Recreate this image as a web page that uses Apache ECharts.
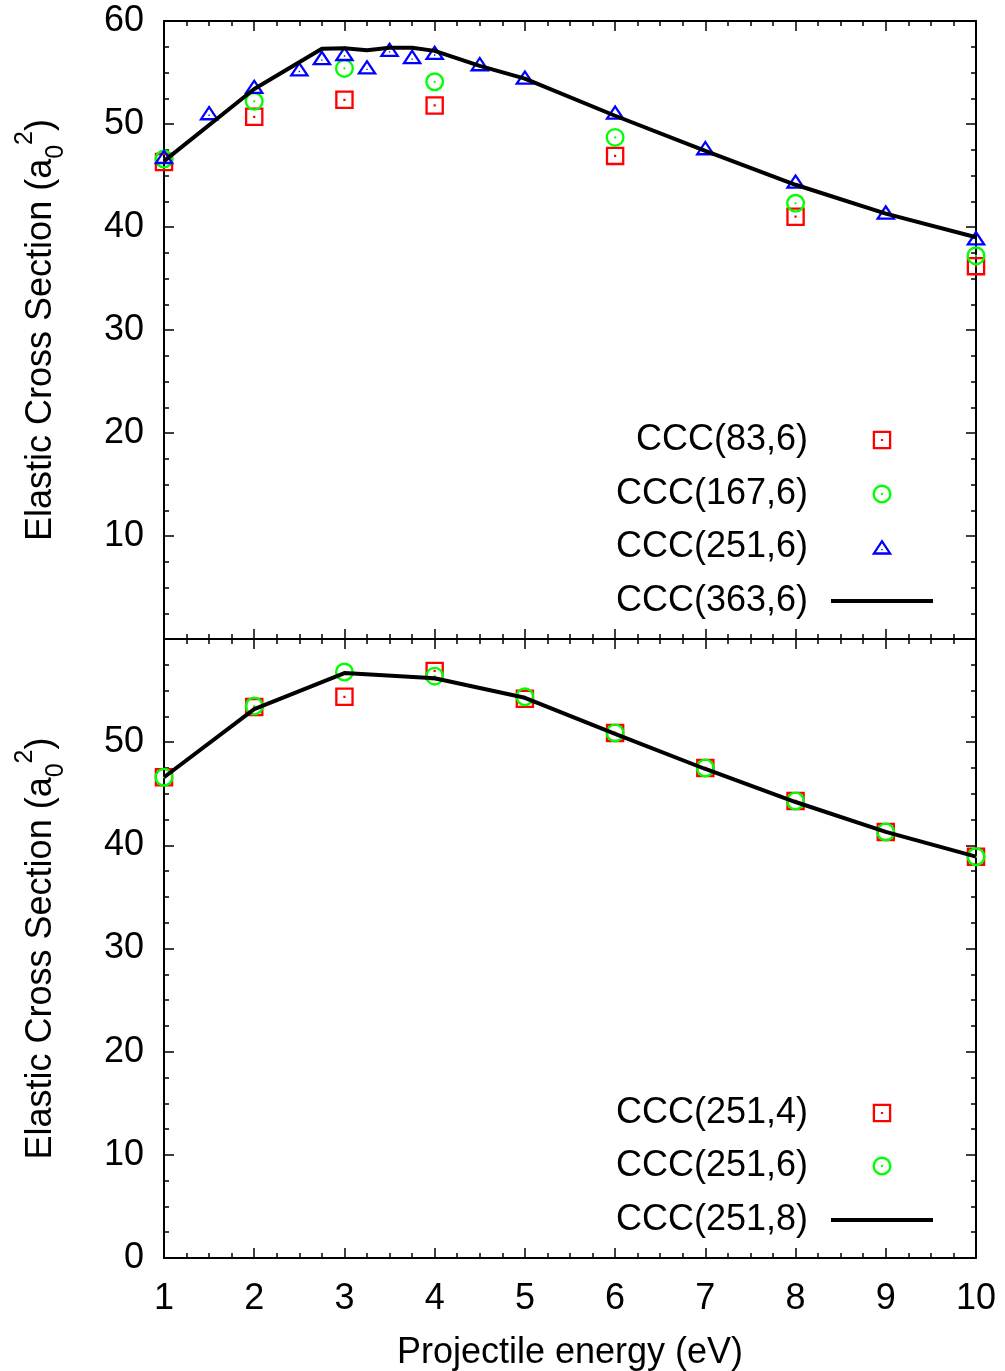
<!DOCTYPE html>
<html>
<head>
<meta charset="utf-8">
<script src="https://cdn.jsdelivr.net/npm/echarts@6/dist/echarts.min.js"></script>
<style>
  html, body { margin: 0; padding: 0; background: #fff; }
  #chart { width: 1005px; height: 1371px; }
</style>
</head>
<body>
<div id="chart"></div>
<script>
// Projectile energies (eV)
const energyFine = [1, 1.5, 2, 2.5, 2.75, 3, 3.25, 3.5, 3.75, 4, 4.5, 5, 6, 7, 8, 9, 10];
const energyCoarse = [1, 2, 3, 4, 6, 8, 10];
const energyLine = [1, 2, 2.75, 3, 3.25, 3.5, 3.75, 4, 4.5, 5, 6, 7, 8, 9, 10];
const energyInt = [1, 2, 3, 4, 5, 6, 7, 8, 9, 10];

// Upper panel: convergence in the number of states (a0^2)
const ccc83_6 = [46.3, 50.7, 52.35, 51.8, 46.9, 41.0, 36.2];
const ccc167_6 = [46.6, 52.2, 55.4, 54.1, 48.7, 42.3, 37.2];
const ccc251_6 = [46.6, 50.85, 53.4, 55.1, 56.2, 56.6, 55.3, 57.0, 56.3, 56.7, 55.6, 54.3, 50.9, 47.45, 44.2, 41.2, 38.7];
const ccc363_6 = [46.4, 53.4, 57.3, 57.35, 57.15, 57.4, 57.4, 57.1, 55.65, 54.4, 50.8, 47.4, 44.1, 41.3, 39.0];

// Lower panel: convergence in the partial-wave cut-off (a0^2)
const ccc251_4 = [46.6, 53.4, 54.4, 56.9, 54.2, 50.9, 47.5, 44.3, 41.3, 38.9];
const ccc251_6b = [46.6, 53.5, 56.8, 56.4, 54.4, 50.9, 47.5, 44.3, 41.3, 38.9];
const ccc251_8 = [46.6, 53.2, 56.7, 56.2, 54.3, 50.8, 47.4, 44.2, 41.3, 38.9];

const yTicksTop = [10, 20, 30, 40, 50, 60];
const yTicksBottom = [0, 10, 20, 30, 40, 50];

const FONT = '"Liberation Sans", Arial, Helvetica, sans-serif';
const FS = 36;
const RED = '#ff0000', GREEN = '#00ff00', BLUE = '#0000ff';

// open markers with a centre dot (non-zero winding: ring + dot)
const SQUARE = 'path://M0,0H10V10H0Z M1.25,1.25V8.75H8.75V1.25Z M4.4,4.4H5.6V5.6H4.4Z';
const CIRCLE = 'path://M0,5A5,5 0 1 1 10,5A5,5 0 1 1 0,5Z M1.25,5A3.75,3.75 0 1 0 8.75,5A3.75,3.75 0 1 0 1.25,5Z M4.4,5A0.6,0.6 0 1 1 5.6,5A0.6,0.6 0 1 1 4.4,5Z';
const TRIANGLE = 'path://M10,0L20,15L0,15Z M10,3.9L4.15,12.7L15.85,12.7Z M9.35,9.35H10.65V10.65H9.35Z';
const LINEKEY = 'path://M0,0H102V4H0Z';

const SQ = 18.5, CI = 19, TRI = [20.5, 15.4];

const pairs = (xs, ys) => xs.map((x, i) => [x, ys[i]]);

function baseAxis(extra) {
  return Object.assign({
    type: 'value',
    axisLine: { show: true, onZero: false, lineStyle: { color: '#000', width: 2 } },
    axisTick: { show: true, inside: true, length: 10, lineStyle: { color: '#000', width: 1.5 } },
    minorTick: { show: true, splitNumber: 4, length: 5, lineStyle: { color: '#000', width: 1.5 } },
    splitLine: { show: false },
    minorSplitLine: { show: false },
    axisLabel: { show: false }
  }, extra);
}

const labelStyle = { show: true, color: '#000', fontSize: FS, fontFamily: FONT };

const xCommon = { min: 1, max: 10, interval: 1 };
const yCommon = { min: 0, max: 60, interval: 10 };

const yName = '{n|Elastic Cross Section (a}{sub|0}{sup|2}{n|)}';
const yNameStyle = {
  color: '#000', fontFamily: FONT, fontSize: FS,
  rich: {
    n: { fontSize: FS, fontFamily: FONT, color: '#000', lineHeight: 56 },
    sub: { fontSize: 25, fontFamily: FONT, color: '#000', verticalAlign: 'bottom' },
    sup: { fontSize: 25, fontFamily: FONT, color: '#000', verticalAlign: 'top' }
  }
};

// key entries: icon centred at x = 882, text ending 5px left of a 138px slot
function legendFor(name, icon, color, top, w, h) {
  return {
    data: [{ name: name, icon: icon, itemStyle: { color: color } }],
    orient: 'vertical', align: 'right', right: 1005 - 882 - w / 2, top: top, padding: 0,
    itemWidth: 138, itemHeight: h, selectedMode: false,
    textStyle: { color: '#000', fontSize: FS, fontFamily: FONT }
  };
}

const option = {
  animation: false,
  backgroundColor: '#fff',
  grid: [
    { left: 164, right: 29, top: 21, height: 618, containLabel: false, outerBoundsMode: 'none' },
    { left: 164, right: 29, top: 639, height: 619, containLabel: false, outerBoundsMode: 'none' }
  ],
  xAxis: [
    baseAxis(Object.assign({ gridIndex: 0, position: 'bottom' }, xCommon)),
    baseAxis(Object.assign({ gridIndex: 0, position: 'top' }, xCommon)),
    baseAxis(Object.assign({
      gridIndex: 1, position: 'bottom',
      axisLabel: Object.assign({ margin: 23 }, labelStyle),
      name: 'Projectile energy (eV)', nameLocation: 'middle', nameGap: 77,
      nameTextStyle: { color: '#000', fontSize: FS, fontFamily: FONT }
    }, xCommon)),
    baseAxis(Object.assign({ gridIndex: 1, position: 'top' }, xCommon))
  ],
  yAxis: [
    baseAxis(Object.assign({
      gridIndex: 0, position: 'left',
      axisLabel: Object.assign({ margin: 20, showMinLabel: false,
        formatter: v => (yTicksTop.indexOf(v) >= 0 ? String(v) : '') }, labelStyle),
      name: yName, nameLocation: 'middle', nameGap: 95, nameRotate: 90, nameTextStyle: yNameStyle
    }, yCommon)),
    baseAxis(Object.assign({ gridIndex: 0, position: 'right' }, yCommon)),
    baseAxis(Object.assign({
      gridIndex: 1, position: 'left',
      axisLabel: Object.assign({ margin: 20, showMaxLabel: false,
        formatter: v => (yTicksBottom.indexOf(v) >= 0 ? String(v) : '') }, labelStyle),
      name: yName, nameLocation: 'middle', nameGap: 95, nameRotate: 90, nameTextStyle: yNameStyle
    }, yCommon)),
    baseAxis(Object.assign({ gridIndex: 1, position: 'right' }, yCommon))
  ],
  legend: [
    legendFor('CCC(83,6)', SQUARE, RED, 422, SQ, SQ),
    legendFor('CCC(167,6)', CIRCLE, GREEN, 476, CI, CI),
    legendFor('CCC(251,6)', TRIANGLE, BLUE, 529, TRI[0], TRI[1]),
    legendFor('CCC(363,6)', LINEKEY, '#000', 583, 102, 4),
    legendFor('CCC(251,4)', SQUARE, RED, 1095, SQ, SQ),
    legendFor('CCC(251,6)', CIRCLE, GREEN, 1148, CI, CI),
    legendFor('CCC(251,8)', LINEKEY, '#000', 1202, 102, 4)
  ],
  series: [
    { type: 'scatter', name: 'CCC(83,6)', xAxisIndex: 0, yAxisIndex: 0,
      data: pairs(energyCoarse, ccc83_6), symbol: SQUARE, symbolSize: SQ,
      itemStyle: { color: RED, opacity: 1 }, silent: true },
    { type: 'scatter', name: 'CCC(167,6)', xAxisIndex: 0, yAxisIndex: 0,
      data: pairs(energyCoarse, ccc167_6), symbol: CIRCLE, symbolSize: CI,
      itemStyle: { color: GREEN, opacity: 1 }, silent: true },
    { type: 'scatter', name: 'CCC(251,6)', xAxisIndex: 0, yAxisIndex: 0,
      data: pairs(energyFine, ccc251_6), symbol: TRIANGLE, symbolSize: TRI, symbolOffset: [0, -TRI[1] / 6],
      itemStyle: { color: BLUE, opacity: 1 }, silent: true },
    { type: 'line', name: 'CCC(363,6)', xAxisIndex: 0, yAxisIndex: 0,
      data: pairs(energyLine, ccc363_6), showSymbol: false, symbol: 'none',
      lineStyle: { color: '#000', width: 4 }, itemStyle: { color: '#000' }, silent: true },

    { type: 'scatter', name: 'CCC(251,4)', xAxisIndex: 2, yAxisIndex: 2,
      data: pairs(energyInt, ccc251_4), symbol: SQUARE, symbolSize: SQ,
      itemStyle: { color: RED, opacity: 1 }, silent: true },
    { type: 'scatter', name: 'CCC(251,6)', xAxisIndex: 2, yAxisIndex: 2,
      data: pairs(energyInt, ccc251_6b), symbol: CIRCLE, symbolSize: CI,
      itemStyle: { color: GREEN, opacity: 1 }, silent: true },
    { type: 'line', name: 'CCC(251,8)', xAxisIndex: 2, yAxisIndex: 2,
      data: pairs(energyInt, ccc251_8), showSymbol: false, symbol: 'none',
      lineStyle: { color: '#000', width: 4 }, itemStyle: { color: '#000' }, silent: true }
  ]
};

const chart = echarts.init(document.getElementById('chart'), null, { renderer: 'canvas' });
chart.setOption(option);
</script>
</body>
</html>
